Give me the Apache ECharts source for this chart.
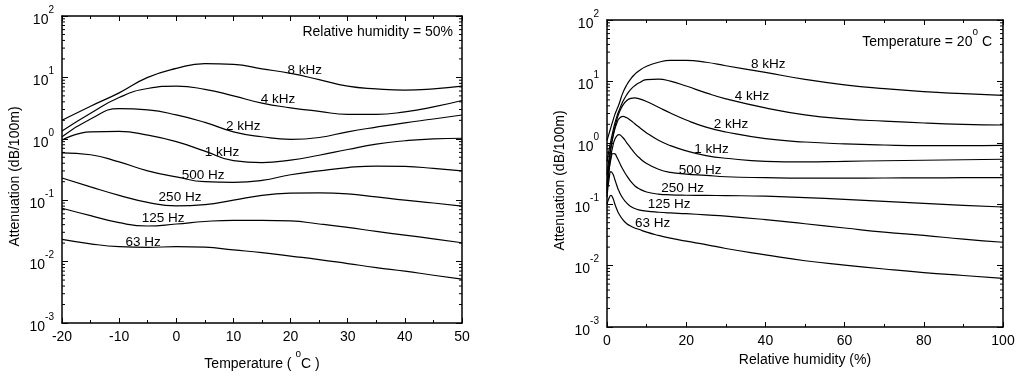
<!DOCTYPE html>
<html>
<head>
<meta charset="utf-8">
<script src="https://cdn.jsdelivr.net/npm/echarts@6/dist/echarts.min.js"></script>
<style>
  html, body { margin: 0; padding: 0; background: #fff; }
  #chart { width: 1018px; height: 376px; }
</style>
</head>
<body>
<div id="chart"></div>
<script>
// left panel: attenuation vs temperature, RH = 50%
const tempC = [-20, -15, -10, -5, 0, 5, 10, 15, 20, 25, 30, 35, 40, 45, 50];
const t8k  = [2.0, 3.4, 5.6, 10.0, 14.0, 16.8, 16.3, 13.8, 11.6, 9.2, 7.2, 6.5, 6.2, 6.5, 7.2];
const t4k  = [1.34, 2.6, 4.7, 6.6, 7.2, 6.4, 5.0, 3.8, 3.2, 2.8, 2.5, 2.5, 2.75, 3.3, 4.2];
const t2k  = [1.08, 2.1, 3.1, 2.95, 2.45, 1.85, 1.3, 1.08, 0.98, 1.05, 1.3, 1.55, 1.82, 2.1, 2.44];
const t1k  = [0.95, 1.3, 1.32, 1.15, 0.9, 0.63, 0.44, 0.41, 0.45, 0.54, 0.67, 0.82, 0.93, 1.0, 1.02];
const t500 = [0.59, 0.55, 0.42, 0.3, 0.24, 0.2, 0.195, 0.21, 0.26, 0.3, 0.34, 0.36, 0.355, 0.33, 0.3];
const t250 = [0.23, 0.165, 0.12, 0.092, 0.081, 0.085, 0.1, 0.12, 0.13, 0.132, 0.127, 0.113, 0.1, 0.09, 0.08];
const t125 = [0.074, 0.056, 0.043, 0.038, 0.041, 0.045, 0.047, 0.047, 0.046, 0.041, 0.036, 0.031, 0.027, 0.0235, 0.0203];
const t63  = [0.023, 0.0195, 0.0175, 0.017, 0.0176, 0.0172, 0.0155, 0.014, 0.0123, 0.0108, 0.0093, 0.008, 0.007, 0.006, 0.0052];

// right panel: attenuation vs relative humidity, T = 20 C
const rhPct = [0, 0.5, 1, 1.5, 2, 2.5, 3, 4, 5, 6, 7, 8, 10, 13, 16, 20, 25, 30, 40, 50, 60, 70, 80, 90, 100];
const h8k  = [1.1, 1.4, 1.8, 2.3, 2.9, 3.5, 4.2, 6.5, 8.8, 11, 13, 14.8, 17.6, 20.5, 22, 22, 20.5, 18, 14, 10.8, 8.8, 7.6, 6.8, 6.3, 5.9];
const h4k  = [0.5, 0.75, 1.1, 1.55, 2.1, 2.7, 3.3, 4.7, 6.1, 7.4, 8.5, 9.4, 10.7, 10.9, 10.1, 8.4, 6.5, 5.2, 3.7, 2.85, 2.45, 2.25, 2.1, 2.0, 1.95];
const h2k  = [0.3, 0.55, 0.9, 1.3, 1.8, 2.4, 3.0, 4.1, 4.9, 5.3, 5.4, 5.25, 4.7, 3.8, 3.05, 2.35, 1.8, 1.5, 1.17, 1.03, 0.96, 0.92, 0.9, 0.9, 0.91];
const h1k  = [0.2, 0.45, 0.8, 1.25, 1.7, 2.1, 2.45, 2.7, 2.55, 2.3, 2.05, 1.82, 1.45, 1.1, 0.9, 0.74, 0.62, 0.56, 0.5, 0.49, 0.5, 0.51, 0.52, 0.53, 0.54];
const h500 = [0.17, 0.35, 0.62, 0.9, 1.15, 1.3, 1.36, 1.22, 1.0, 0.82, 0.68, 0.58, 0.46, 0.37, 0.33, 0.31, 0.295, 0.28, 0.27, 0.265, 0.265, 0.267, 0.268, 0.27, 0.27];
const h250 = [0.15, 0.35, 0.55, 0.67, 0.66, 0.58, 0.5, 0.37, 0.29, 0.235, 0.2, 0.18, 0.158, 0.146, 0.142, 0.14, 0.139, 0.138, 0.135, 0.128, 0.12, 0.111, 0.103, 0.096, 0.09];
const h125 = [0.13, 0.25, 0.34, 0.31, 0.25, 0.2, 0.165, 0.125, 0.104, 0.092, 0.085, 0.081, 0.077, 0.074, 0.072, 0.07, 0.067, 0.064, 0.056, 0.048, 0.041, 0.035, 0.031, 0.027, 0.024];
const h63  = [0.1, 0.125, 0.14, 0.125, 0.1, 0.082, 0.07, 0.056, 0.048, 0.044, 0.041, 0.039, 0.035, 0.031, 0.028, 0.025, 0.022, 0.019, 0.015, 0.012, 0.0102, 0.0088, 0.0077, 0.0069, 0.0062];

const freqNames = ['8 kHz', '4 kHz', '2 kHz', '1 kHz', '500 Hz', '250 Hz', '125 Hz', '63 Hz'];
// label anchors in data units [x, attenuation]
const tLabelAt = [[22.5, 13.2], [17.8, 4.45], [11.7, 1.62], [8.0, 0.61], [4.7, 0.25], [0.65, 0.113], [-2.3, 0.051], [-5.8, 0.0209]];
const hLabelAt = [[40.7, 19.3], [36.6, 5.7], [31.3, 2.03], [26.4, 0.77], [23.5, 0.355], [19.1, 0.183], [15.7, 0.098], [11.5, 0.049]];

const decades = [0.001, 0.01, 0.1, 1, 10];
const minorMult = [2, 3, 4, 5, 6, 7, 8, 9];

const FONT = 'Liberation Sans, Arial, sans-serif';
const rich = {
  b: { fontSize: 14, fontFamily: FONT, color: '#000', lineHeight: 22, verticalAlign: 'bottom' },
  s: { fontSize: 10, fontFamily: FONT, color: '#000', lineHeight: 10, verticalAlign: 'top' }
};

const chart = echarts.init(document.getElementById('chart'), null, { renderer: 'canvas' });

const tSets = [t8k, t4k, t2k, t1k, t500, t250, t125, t63];
const hSets = [h8k, h4k, h2k, h1k, h500, h250, h125, h63];

function curve(xs, ys, gi, name, at) {
  return {
    type: 'line',
    xAxisIndex: gi * 2,
    yAxisIndex: gi * 2,
    data: xs.map((x, i) => [x, ys[i]]),
    showSymbol: false,
    smooth: 0.5,
    lineStyle: { color: '#000', width: 1.2 },
    silent: true,
    animation: false,
    markPoint: {
      symbol: 'circle',
      symbolSize: 0,
      silent: true,
      animation: false,
      label: { show: true, position: 'inside', color: '#000', fontSize: 13.5, fontFamily: FONT, formatter: name },
      data: [{ coord: at }]
    }
  };
}

const minorVals = [];
decades.forEach(d => minorMult.forEach(m => minorVals.push(d * m)));

// log-axis minor ticks, drawn inward on both the left and right frame
function minorTicks(gi, xMin, xMax) {
  return {
    type: 'custom',
    xAxisIndex: gi * 2,
    yAxisIndex: gi * 2,
    silent: true,
    animation: false,
    clip: false,
    data: minorVals.map(v => [xMin, v]),
    renderItem: function (params, api) {
      const v = api.value(1);
      const p = api.coord([xMin, v]);
      const q = api.coord([xMax, v]);
      return {
        type: 'group',
        children: [
          { type: 'line', shape: { x1: p[0], y1: p[1], x2: p[0] + 3, y2: p[1] }, style: { stroke: '#000', lineWidth: 1 } },
          { type: 'line', shape: { x1: q[0] - 3, y1: q[1], x2: q[0], y2: q[1] }, style: { stroke: '#000', lineWidth: 1 } }
        ]
      };
    }
  };
}

function xAxes(gi, min, max, interval, name) {
  const common = {
    type: 'value', gridIndex: gi, min: min, max: max, interval: interval,
    axisLine: { show: true, onZero: false, lineStyle: { color: '#000', width: 1.5 } },
    axisTick: { show: true, inside: true, length: 5, lineStyle: { color: '#000', width: 1 } },
    minorTick: { show: true, splitNumber: 2, length: 3, lineStyle: { color: '#000', width: 1 } },
    splitLine: { show: false }
  };
  return [
    Object.assign({}, common, {
      position: 'bottom',
      axisLabel: { color: '#000', fontSize: 14, fontFamily: FONT, margin: 7 },
      name: name, nameLocation: 'middle', nameGap: 25,
      nameTextStyle: { color: '#000', fontSize: 14, fontFamily: FONT, rich: rich }
    }),
    Object.assign({}, common, { position: 'top', axisLabel: { show: false } })
  ];
}

function yAxes(gi) {
  const common = {
    type: 'log', logBase: 10, gridIndex: gi, min: 0.001, max: 100,
    axisLine: { show: true, onZero: false, lineStyle: { color: '#000', width: 1.5 } },
    axisTick: { show: true, inside: true, length: 6, lineStyle: { color: '#000', width: 1 } },
    splitLine: { show: false }
  };
  return [
    Object.assign({}, common, {
      position: 'left',
      axisLabel: {
        margin: 8,
        formatter: v => '{b|10}{s|' + Math.round(Math.log10(v)) + '}',
        rich: rich
      },
      name: 'Attenuation (dB/100m)', nameLocation: 'middle', nameGap: 40,
      nameTextStyle: { color: '#000', fontSize: 14, fontFamily: FONT, padding: [0, 14, 0, 0] }
    }),
    Object.assign({}, common, { position: 'right', axisLabel: { show: false } })
  ];
}

const series = [];
tSets.forEach((ys, i) => series.push(curve(tempC, ys, 0, freqNames[i], tLabelAt[i])));
hSets.forEach((ys, i) => series.push(curve(rhPct, ys, 1, freqNames[i], hLabelAt[i])));
series.push(minorTicks(0, -20, 50));
series.push(minorTicks(1, 0, 100));

chart.setOption({
  backgroundColor: '#fff',
  animation: false,
  textStyle: { fontFamily: FONT },
  grid: [
    { left: 62, top: 16, width: 400, height: 307 },
    { left: 607, top: 20, width: 396, height: 307 }
  ],
  xAxis: xAxes(0, -20, 50, 10, '{b|Temperature ( }{s|o}{b|C )}')
    .concat(xAxes(1, 0, 100, 20, 'Relative humidity (%)')),
  yAxis: yAxes(0).concat(yAxes(1)),
  series: series,
  graphic: [
    {
      type: 'text', right: 565, top: 25,
      style: { text: 'Relative humidity = 50%', fill: '#000', font: '14px ' + FONT }
    },
    {
      type: 'text', right: 26, top: 27,
      style: { text: '{b|Temperature = 20}{s|o}{b| C}', fill: '#000', rich: rich }
    }
  ]
});
</script>
</body>
</html>
